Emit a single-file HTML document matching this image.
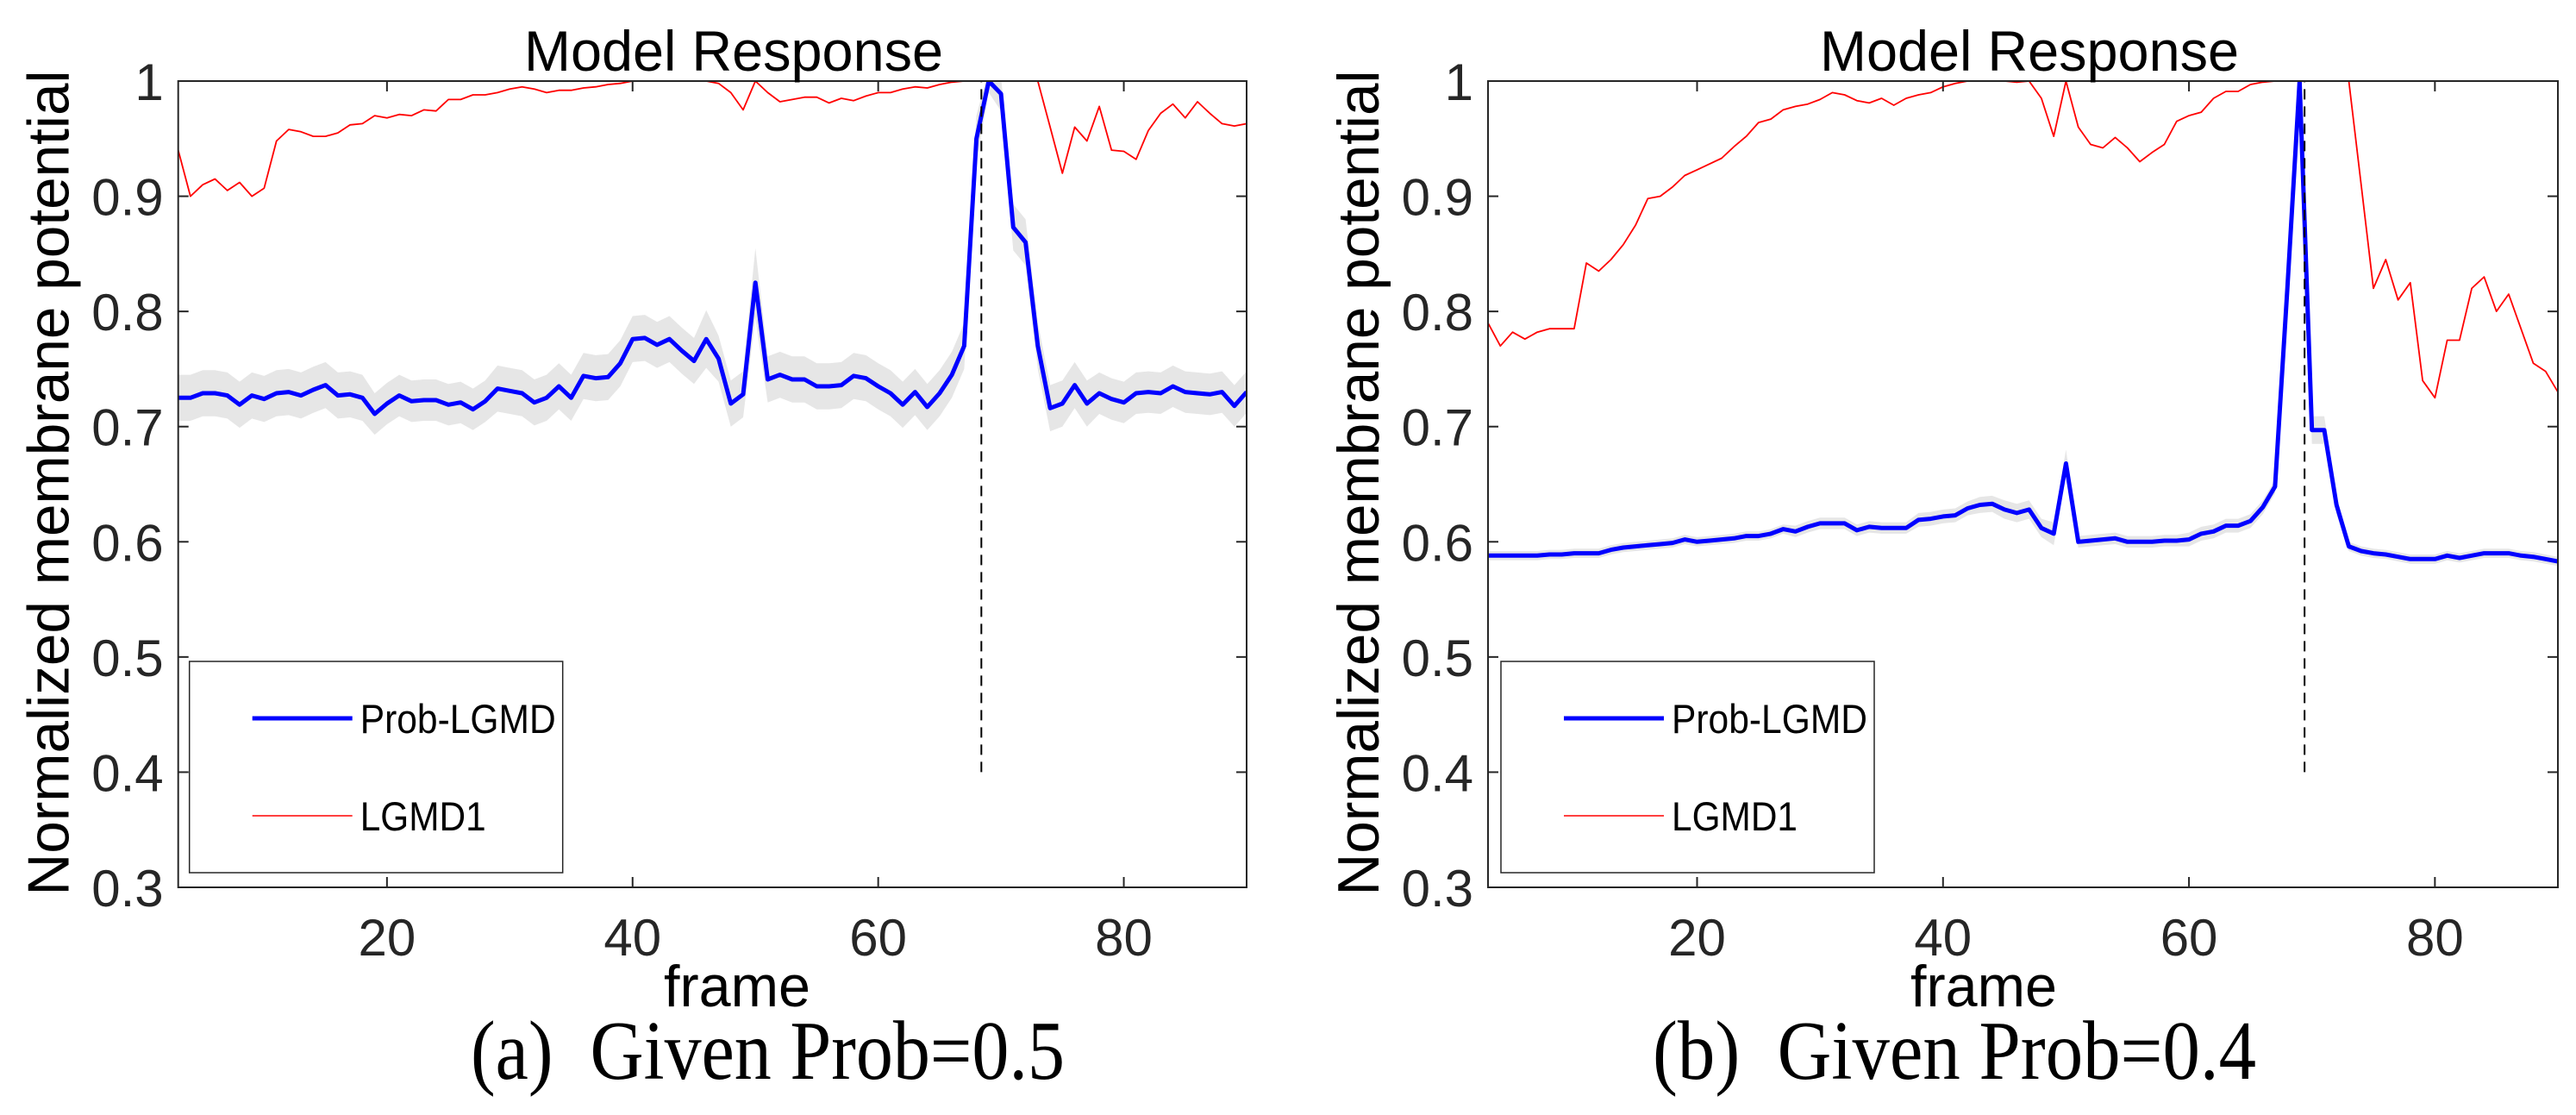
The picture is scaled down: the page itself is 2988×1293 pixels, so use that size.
<!DOCTYPE html>
<html><head><meta charset="utf-8">
<style>
html,body{margin:0;padding:0;background:#fff;}
svg{display:block;}
text{white-space:pre;}
</style></head>
<body>
<svg id="fig" width="2988" height="1293" viewBox="0 0 2988 1293" xmlns="http://www.w3.org/2000/svg"></svg>
<script>
const frames = [];
for (let f = 3; f <= 90; f++) frames.push(f);
const yTicks = [0.3,0.4,0.5,0.6,0.7,0.8,0.9,1];
const yTickLabels = ["0.3","0.4","0.5","0.6","0.7","0.8","0.9","1"];
const xTicks = [20,40,60,80];
const xTickLabels = ["20","40","60","80"];

const probA = [.725,.725,.729,.729,.727,.719,.727,.724,.729,.730,.727,.732,.736,.727,.728,.725,.711,.720,.727,.722,.723,.723,.719,.721,.715,.722,.733,.731,.729,.721,.725,.735,.725,.744,.742,.743,.755,
.776,.777,.771,.776,.766,.757,.776,.759,.720,.728,.825,.741,.745,.741,.741,.735,.735,.736,.744,.742,.735,.729,
.719,.730,.717,.729,.745,.770,.950,1.0,.989,.873,.860,.770,.716,.720,.736,.720,.729,.724,.721,.729,.730,.729,.735,.730,.729,.728,.730,.718,.730];
const bandA = [.02,.02,.02,.02,.02,.02,.02,.02,.02,.02,.02,.02,.02,.02,.02,.02,.018,.018,.018,.018,.018,.018,.018,.018,.018,.018,.02,.02,.02,.02,.02,.02,.02,.02,.02,.02,.02,
.02,.02,.02,.02,.02,.02,.025,.02,.02,.02,.03,.02,.02,.02,.02,.02,.02,.02,.02,.02,.02,.02,
.02,.02,.02,.02,.02,.02,.02,.01,.015,.02,.02,.02,.02,.02,.02,.02,.018,.018,.018,.018,.018,.018,.018,.018,.018,.018,.018,.018,.018];
const lgmdA = [.94,.90,.91,.915,.905,.912,.90,.907,.948,.958,.956,.952,.952,.955,.962,.963,.970,.968,.971,.970,.975,.974,.984,.984,.988,.988,.990,.993,.995,.993,.990,.992,.992,.994,.995,.997,.998,
1,1,1,1,1,1,1,.998,.99,.975,1,.99,.982,.984,.986,.986,.981,.985,.983,.987,.990,.990,
.993,.995,.994,.997,.999,1,1,1,1,1,1,1,.96,.92,.96,.948,.978,.94,.939,.932,.957,.972,.98,.968,.982,.972,.963,.961,.963];

const probB = [.588,.588,.588,.588,.588,.589,.589,.590,.590,.590,.593,.595,.596,.597,.598,.599,.602,.600,.601,.602,.603,.605,.605,.607,.611,.609,.613,.616,.616,.616,.610,.613,.612,.612,.612,.619,.620,
.622,.623,.629,.632,.633,.628,.625,.628,.612,.607,.668,.600,.601,.602,.603,.600,.600,.600,.601,.601,.602,.607,
.609,.614,.614,.618,.630,.648,.820,1.0,.697,.697,.632,.596,.592,.590,.589,.587,.585,.585,.585,.588,.586,.588,.590,.590,.590,.588,.587,.585,.583];
const bandB = [.004,.004,.004,.004,.004,.004,.004,.004,.004,.004,.004,.004,.004,.004,.004,.004,.004,.004,.004,.004,.004,.004,.004,.004,.004,.005,.005,.005,.005,.005,.005,.005,.005,.005,.005,.006,.006,
.006,.006,.006,.007,.007,.008,.008,.008,.008,.01,.012,.005,.005,.005,.005,.005,.005,.005,.005,.005,.006,.006,
.006,.006,.006,.006,.006,.006,.01,.01,.012,.012,.008,.004,.004,.004,.004,.004,.004,.004,.004,.004,.004,.004,.004,.004,.004,.004,.004,.004,.004];
const lgmdB = [.79,.77,.782,.776,.782,.785,.785,.785,.842,.835,.845,.858,.875,.898,.90,.908,.918,.923,.928,.933,.943,.952,.964,.967,.975,.978,.980,.984,.990,.988,.983,.981,.985,.979,.985,.988,.990,
.995,.998,1,1,1,1,.999,1,.985,.952,1,.96,.945,.942,.951,.942,.930,.938,.945,.965,.970,.973,
.985,.991,.991,.997,.999,1,1,1,1,1,1,1,.91,.82,.845,.81,.825,.74,.725,.775,.775,.82,.83,.80,.815,.785,.755,.748,.73];

const peakA = 68.4, peakB = 69.4;

const NS = "http://www.w3.org/2000/svg";
const svg = document.getElementById('fig');
function mk(tag, attrs, parent) {
  const e = document.createElementNS(NS, tag);
  for (const k in attrs) e.setAttribute(k, attrs[k]);
  (parent || svg).appendChild(e);
  return e;
}

function panel(cfg) {
  const g = mk('g', {});
  
  
  const x0 = cfg.x0, x1 = cfg.x1, y0 = 94, y1 = 1029;
  const xs = v => x0 + (v - 3) / (90 - 3) * (x1 - x0);
  const ys = v => y1 - (v - 0.3) / (1 - 0.3) * (y1 - y0);
  const clipId = 'clip-' + cfg.name;
  const cp = mk('clipPath', {id: clipId}, g);
  mk('rect', {x: x0, y: y0, width: x1 - x0, height: y1 - y0}, cp);
  const plot = mk('g', {'clip-path': 'url(#' + clipId + ')'}, g);

  let up = [], dn = [];
  frames.forEach((f, i) => {
    up.push(xs(f).toFixed(1) + ',' + ys(cfg.prob[i] + cfg.band[i]).toFixed(1));
    dn.unshift(xs(f).toFixed(1) + ',' + ys(cfg.prob[i] - cfg.band[i]).toFixed(1));
  });
  const band = mk('polygon', {points: up.concat(dn).join(' '), fill: '#e6e6e6', stroke: 'none'}, plot);
  
  

  const redPts = frames.map((f, i) => xs(f).toFixed(1) + ',' + ys(cfg.lgmd[i]).toFixed(1)).join(' ');
  const red = mk('polyline', {points: redPts, fill: 'none', stroke: '#ff0000', 'stroke-width': 1.8, 'stroke-linejoin': 'round'}, plot);
  
  

  const bluePts = frames.map((f, i) => xs(f).toFixed(1) + ',' + ys(cfg.prob[i]).toFixed(1)).join(' ');
  const blue = mk('polyline', {points: bluePts, fill: 'none', stroke: '#0000ff', 'stroke-width': 5, 'stroke-linejoin': 'round'}, plot);
  
  

  const dash = mk('line', {x1: xs(cfg.peak), x2: xs(cfg.peak), y1: ys(0.4), y2: ys(1), stroke: '#000', 'stroke-width': 2, 'stroke-dasharray': '12,8'}, g);
  
  

  const box = mk('rect', {x: x0, y: y0, width: x1 - x0, height: y1 - y0, fill: 'none', stroke: '#262626', 'stroke-width': 2}, g);
  
  

  yTicks.forEach((v, i) => {
    const y = ys(v);
    mk('line', {x1: x0, x2: x0 + 12, y1: y, y2: y, stroke: '#262626', 'stroke-width': 2}, g);
    mk('line', {x1: x1, x2: x1 - 12, y1: y, y2: y, stroke: '#262626', 'stroke-width': 2}, g);
    const t = mk('text', {x: x0 - 17, y: y + 22, 'text-anchor': 'end', 'font-family': 'Liberation Sans, sans-serif', 'font-size': 60, fill: '#262626'}, g);
    t.textContent = yTickLabels[i];
    
    
  });
  xTicks.forEach((v, i) => {
    const x = xs(v);
    mk('line', {x1: x, x2: x, y1: y1, y2: y1 - 12, stroke: '#262626', 'stroke-width': 2}, g);
    mk('line', {x1: x, x2: x, y1: y0, y2: y0 + 12, stroke: '#262626', 'stroke-width': 2}, g);
    const t = mk('text', {x: x, y: 1108, 'text-anchor': 'middle', 'font-family': 'Liberation Sans, sans-serif', 'font-size': 60, fill: '#262626'}, g);
    t.textContent = xTickLabels[i];
    
    
  });

  const yl = mk('text', {x: 0, y: 0, transform: 'translate(' + (x0 - 127) + ',560) rotate(-90)', 'text-anchor': 'middle', 'font-family': 'Liberation Sans, sans-serif', 'font-size': 68, fill: '#000', textLength: 957, lengthAdjust: 'spacingAndGlyphs'}, g);
  yl.textContent = 'Normalized membrane potential';
  
  

  const ti = mk('text', {x: cfg.titleX, y: 82, 'font-family': 'Liberation Sans, sans-serif', 'font-size': 66, fill: '#000', textLength: 486, lengthAdjust: 'spacingAndGlyphs'}, g);
  ti.textContent = 'Model Response';
  
  

  const xl = mk('text', {x: cfg.frameX, y: 1167, 'font-family': 'Liberation Sans, sans-serif', 'font-size': 68, fill: '#000', textLength: 170, lengthAdjust: 'spacingAndGlyphs'}, g);
  xl.textContent = 'frame';
  
  

  const sc = mk('text', {x: cfg.capX, y: 1251, 'font-family': 'Liberation Serif, serif', 'font-size': 98, fill: '#000', textLength: cfg.capW, lengthAdjust: 'spacingAndGlyphs'}, g);
  sc.textContent = cfg.caption;
  
  

  const lg = mk('g', {}, g);
  
  
  const lx = x0 + cfg.legOff;
  mk('rect', {x: lx, y: 767, width: 433, height: 245, fill: '#fff', stroke: '#262626', 'stroke-width': 1.5}, lg);
  const e1 = mk('g', {}, lg);
  
  
  mk('line', {x1: lx + 73, x2: lx + 189, y1: 833, y2: 833, stroke: '#0000ff', 'stroke-width': 5}, e1);
  const t1 = mk('text', {x: lx + 198, y: 850, 'font-family': 'Liberation Sans, sans-serif', 'font-size': 47, fill: '#000', textLength: 227, lengthAdjust: 'spacingAndGlyphs'}, e1);
  t1.textContent = 'Prob-LGMD';
  const e2 = mk('g', {}, lg);
  
  
  mk('line', {x1: lx + 73, x2: lx + 189, y1: 946, y2: 946, stroke: '#ff0000', 'stroke-width': 1.5}, e2);
  const t2 = mk('text', {x: lx + 198, y: 963, 'font-family': 'Liberation Sans, sans-serif', 'font-size': 47, fill: '#000', textLength: 146, lengthAdjust: 'spacingAndGlyphs'}, e2);
  t2.textContent = 'LGMD1';
}

panel({name: 'panel-a', x0: 206.7, x1: 1446, prob: probA, band: bandA, lgmd: lgmdA, peak: peakA,
  titleX: 608, frameX: 770, capX: 546, capW: 689, caption: '(a)  Given Prob=0.5', legOff: 13});
panel({name: 'panel-b', x0: 1726, x1: 2967, prob: probB, band: bandB, lgmd: lgmdB, peak: peakB,
  titleX: 2111, frameX: 2216, capX: 1917, capW: 700, caption: '(b)  Given Prob=0.4', legOff: 15});
</script>
</body></html>
